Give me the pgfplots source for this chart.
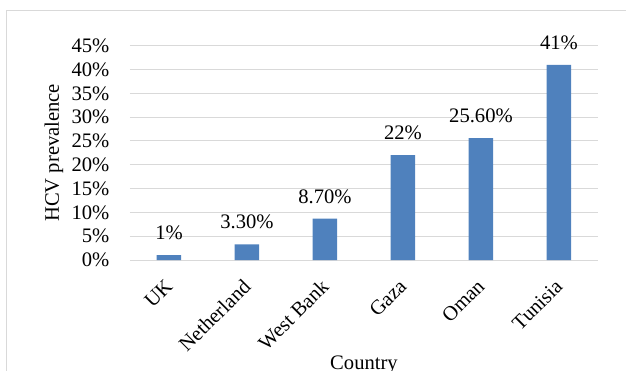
\documentclass[border=0pt]{standalone}
\usepackage{pgfplots}
\pgfplotsset{compat=1.18}
\usepackage{fontspec}
\setmainfont{Liberation Serif}
\definecolor{barblue}{HTML}{4F81BD}
\definecolor{gridgray}{HTML}{D9D9D9}
\begin{document}
\begin{tikzpicture}[font=\fontsize{20.6bp}{24bp}\selectfont]
\draw[gridgray, line width=1bp] (-123bp,249bp) rectangle (700bp,-200bp);
\begin{axis}[
  at={(0,0)}, anchor=south west,
  scale only axis, width=468bp, height=214.3bp,
  xmin=-0.5, xmax=5.5, ymin=0, ymax=45,
  ybar, bar width=24.5bp,
  axis line style={draw=none},
  major tick length=0pt,
  ymajorgrids, major grid style={gridgray, line width=1bp},
  ytick={0,5,10,15,20,25,30,35,40,45},
  yticklabels={0\%,5\%,10\%,15\%,20\%,25\%,30\%,35\%,40\%,45\%},
  yticklabel style={anchor=east, inner sep=0pt, xshift=-20.5bp},
  xtick={0,1,2,3,4,5},
  xticklabels={UK,Netherland,West Bank,Gaza,Oman,Tunisia},
  xticklabel style={xshift=0bp, yshift=-23bp, rotate=45, anchor=east, inner sep=0pt},
  ylabel={HCV prevalence},
  ylabel style={at={(axis description cs:-0.1624,0.5)}, anchor=center},
  xlabel={Country},
  xlabel style={at={(axis description cs:0.5,-0.49)}, anchor=center},
]
\addplot[fill=barblue, draw=none,
  nodes near coords={\pgfplotspointmeta\%},
  point meta=explicit symbolic,
  every node near coord/.append style={anchor=base, yshift=15.5bp, inner sep=0pt, black}]
  table[x=x, y=y, meta=lab] {
x y lab
0 1 1
1 3.3 3.30
2 8.7 8.70
3 22 22
4 25.6 25.60
5 41 41
};
\end{axis}
\pgfresetboundingbox
\path[use as bounding box] (-130bp,-111bp) rectangle (496bp,260bp);
\end{tikzpicture}
\end{document}
